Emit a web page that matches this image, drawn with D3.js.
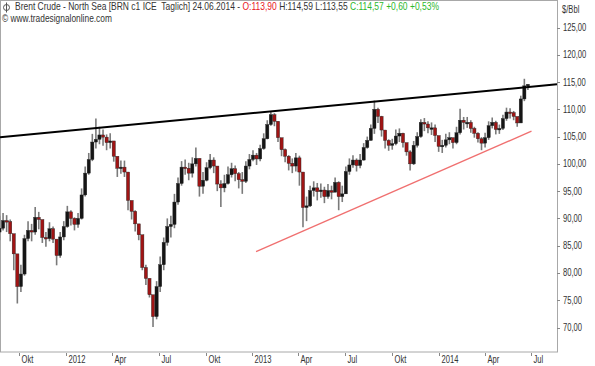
<!DOCTYPE html>
<html>
<head>
<meta charset="utf-8">
<script src="https://cdn.jsdelivr.net/npm/d3@7"></script>
<style>
  body { margin: 0; background: #fff; }
  svg { display: block; font-family: "Liberation Sans", Arial, sans-serif; }
  text { white-space: pre; }
</style>
</head>
<body>
<svg id="chart" width="595" height="366"></svg>
<script>
// weekly candles, one per week (Mondays Aug 2011 - Jun 2014)
const weeks = d3.timeMonday.range(new Date(2011, 7, 22), new Date(2014, 5, 24));

const closes = [
  88.2, 89.6, 89.4, 87.2, 83.5, 77.5, 79.8, 86.3, 87.8, 87.5,
  90.2, 89.8, 86.5, 86.3, 88.1, 86.2, 83.2, 86.6, 88.5, 91.2,
  90.0, 88.9, 90.0, 94.3, 98.3, 100.8, 104.0, 104.5, 105.3, 104.9,
  103.9, 104.2, 101.4, 99.2, 99.4, 98.5, 93.3, 91.3, 89.0, 87.0,
  81.0, 79.0, 76.0, 72.0, 77.5, 81.5, 85.6, 88.5, 88.9, 93.0,
  96.4, 99.4, 99.2, 98.3, 100.0, 101.0, 95.9, 97.0, 99.3, 100.7,
  99.6, 96.3, 95.6, 96.4, 98.0, 99.1, 98.2, 97.1, 96.8, 99.6,
  100.8, 101.6, 100.9, 102.8, 104.6, 107.2, 109.0, 107.8, 104.8, 102.6,
  101.4, 100.1, 99.6, 101.1, 98.5, 92.0, 92.3, 95.1, 95.6, 94.9,
  95.2, 94.0, 95.1, 94.8, 96.6, 94.0, 94.5, 98.6, 99.8, 100.7,
  99.7, 100.7, 103.0, 104.3, 106.5, 110.0, 108.7, 106.2, 104.3, 103.4,
  103.7, 105.1, 105.6, 103.9, 102.2, 100.0, 103.4, 105.0, 107.6, 107.3,
  106.6, 106.6, 105.2, 103.2, 103.4, 104.4, 104.8, 103.9, 105.7, 108.0,
  107.6, 107.6, 106.5, 105.6, 104.6, 103.8, 104.8, 107.0, 107.6, 106.3,
  106.5, 108.3, 109.5, 109.4, 108.7, 107.5, 111.9, 114.3, 114.57
];

const highs = [
  90.5, 91.0, 90.6, 89.8, 87.0, 82.0, 81.5, 87.0, 89.5, 89.0,
  92.1, 91.2, 89.5, 87.5, 89.3, 88.5, 86.0, 87.5, 89.5, 92.3,
  91.5, 90.2, 91.0, 95.5, 99.5, 102.0, 105.5, 108.3, 106.8, 106.3,
  105.4, 105.6, 104.0, 100.8, 100.6, 100.6, 97.5, 93.2, 91.5, 88.8,
  86.5, 81.5, 79.0, 75.5, 78.5, 83.0, 86.5, 90.0, 90.5, 94.5,
  97.5, 100.5, 100.8, 100.2, 101.2, 103.0, 101.0, 98.5, 100.3, 101.8,
  101.2, 99.5, 97.0, 98.0, 99.5, 100.2, 99.7, 98.5, 98.5, 100.5,
  101.8, 102.5, 102.0, 103.5, 105.6, 108.0, 109.6, 109.3, 107.8, 104.5,
  102.8, 101.6, 101.0, 102.0, 101.5, 97.5, 94.0, 96.0, 96.8, 96.5,
  96.4, 95.8, 96.3, 96.0, 97.5, 96.8, 96.0, 99.5, 101.0, 101.6,
  101.0, 101.8, 103.8, 105.0, 107.2, 111.6, 110.3, 108.8, 105.8, 104.5,
  104.6, 106.3, 106.5, 105.7, 103.7, 102.5, 104.2, 105.8, 108.2, 108.4,
  107.8, 107.6, 107.2, 104.7, 104.4, 105.5, 105.8, 104.8, 106.8, 110.1,
  108.6, 108.6, 108.0, 106.8, 105.8, 104.9, 105.7, 107.8, 108.5, 107.9,
  107.2, 109.0, 110.3, 110.2, 109.7, 108.6, 112.5, 115.6, 114.59
];

const lows = [
  86.0, 87.8, 87.5, 85.8, 80.5, 74.4, 76.5, 79.5, 85.8, 85.8,
  87.0, 88.0, 85.5, 84.8, 85.8, 85.5, 81.4, 82.8, 86.0, 88.3,
  88.7, 87.8, 88.3, 89.8, 94.0, 98.0, 100.5, 102.8, 103.6, 103.3,
  102.5, 102.8, 100.4, 97.6, 98.2, 97.6, 91.5, 89.8, 87.6, 86.0,
  80.5, 77.8, 75.5, 70.1, 71.5, 76.5, 80.5, 85.0, 86.5, 88.2,
  92.5, 96.0, 98.0, 97.0, 97.5, 99.5, 94.0, 94.5, 96.8, 99.0,
  98.3, 95.0, 92.1, 94.8, 96.2, 97.5, 96.8, 95.5, 94.5, 96.5,
  99.0, 100.5, 99.8, 100.5, 102.6, 104.5, 107.0, 106.9, 104.0, 101.4,
  100.3, 98.8, 98.3, 98.6, 96.0, 88.4, 89.5, 92.1, 94.0, 93.3,
  93.8, 92.8, 93.6, 93.5, 95.0, 91.5, 93.0, 94.5, 98.0, 99.3,
  98.6, 99.2, 100.6, 102.8, 104.3, 105.5, 107.5, 105.0, 102.8, 102.4,
  102.6, 103.4, 104.0, 103.0, 101.5, 98.8, 99.8, 103.0, 104.8, 106.0,
  105.6, 105.3, 104.0, 102.2, 102.0, 103.0, 103.6, 102.8, 103.6, 105.4,
  106.3, 106.6, 105.7, 104.8, 103.9, 102.5, 103.0, 104.4, 106.5, 105.4,
  105.5, 106.2, 107.9, 108.3, 108.0, 106.8, 107.8, 111.5, 113.55
];
const firstOpen = 87.5;

const quarterTicks = [
  new Date(2011, 9, 1), new Date(2012, 0, 1), new Date(2012, 3, 1), new Date(2012, 6, 1),
  new Date(2012, 9, 1), new Date(2013, 0, 1), new Date(2013, 3, 1), new Date(2013, 6, 1),
  new Date(2013, 9, 1), new Date(2014, 0, 1), new Date(2014, 3, 1), new Date(2014, 6, 1)
];
const quarterLabels = ["Okt", "2012", "Apr", "Jul", "Okt", "2013", "Apr", "Jul", "Okt", "2014", "Apr", "Jul"];
const priceTicks = [70, 75, 80, 85, 90, 95, 100, 105, 110, 115, 120, 125];

// hand drawn trend lines [date, price]
const resistance = [[new Date(2011, 7, 25), 104.9], [new Date(2014, 7, 21), 114.6]];
const support = [[new Date(2013, 0, 8), 83.9], [new Date(2014, 6, 2), 106.0]];

const titleParts = [
  ["Brent Crude - North Sea [BRN c1 ICE  Taglich] 24.06.2014 - ", "#333"],
  ["O:113,90", "#e8141b"],
  [" H:114,59 L:113,55 ", "#333"],
  ["C:114,57 +0,60 +0,53%", "#2db82d"]
];

const W = 557, H = 352;
const svg = d3.select("#chart");

const x = d3.scaleTime()
  .domain([new Date(2011, 7, 25), new Date(2014, 7, 21)])
  .range([0, W]);
const y = d3.scaleLinear().domain([70, 125]).range([327.5, 27.5]);

const de = d3.formatLocale({ decimal: ",", thousands: ".", grouping: [3], currency: ["", " $"] });
const fmt = de.format(".2f");

svg.append("defs").append("clipPath").attr("id", "plot")
  .append("rect").attr("width", W).attr("height", H);

// frame
svg.append("rect")
  .attr("x", 0.5).attr("y", 0.5).attr("width", W).attr("height", H - 0.5)
  .attr("fill", "none").attr("stroke", "#a8a8a8");

const candles = weeks.map((d, i) => ({
  date: d3.timeDay.offset(d, 2),
  open: i ? closes[i - 1] : firstOpen,
  close: closes[i], high: highs[i], low: lows[i]
}));

const g = svg.append("g").attr("clip-path", "url(#plot)");

g.selectAll("line.wick")
  .data(candles)
  .join("line")
  .attr("class", "wick")
  .attr("x1", d => x(d.date)).attr("x2", d => x(d.date))
  .attr("y1", d => y(d.high)).attr("y2", d => y(d.low))
  .attr("stroke", "#7a7a7a").attr("stroke-width", 1.6);

g.selectAll("rect.body")
  .data(candles)
  .join("rect")
  .attr("class", "body")
  .attr("x", d => x(d.date) - 1.6)
  .attr("width", 3.2)
  .attr("y", d => y(Math.max(d.open, d.close)))
  .attr("height", d => Math.max(1.5, Math.abs(y(d.open) - y(d.close))))
  .attr("fill", d => d.close < d.open ? "#a01414" : "#151515")
  .attr("stroke", "#222").attr("stroke-width", 0.4);

const line = d3.line().x(d => x(d[0])).y(d => y(d[1]));
g.append("path").datum(resistance).attr("d", line)
  .attr("stroke", "#000").attr("stroke-width", 2).attr("fill", "none");
g.append("path").datum(support).attr("d", line)
  .attr("stroke", "#f07070").attr("stroke-width", 1.3).attr("fill", "none");

// y axis on the right
const yAxis = svg.append("g").attr("class", "lbl");
priceTicks.forEach(v => {
  yAxis.append("line")
    .attr("x1", W).attr("x2", W + 3)
    .attr("y1", Math.round(y(v)) + 0.5).attr("y2", Math.round(y(v)) + 0.5)
    .attr("stroke", "#888");
  yAxis.append("text")
    .attr("x", W + 6).attr("y", y(v)).attr("dy", "0.35em")
    .attr("font-size", 10).attr("fill", "#333")
    .text(fmt(v));
});
yAxis.append("text")
  .attr("x", W + 5).attr("y", 13)
  .attr("font-size", 10).attr("fill", "#333")
  .text("$/Bbl");

// x axis
const xAxis = svg.append("g").attr("class", "lbl");
quarterTicks.forEach((d, i) => {
  const px = Math.round(x(d)) + 0.5;
  xAxis.append("line")
    .attr("x1", px).attr("x2", px).attr("y1", H + 1).attr("y2", H + 4)
    .attr("stroke", "#888");
  xAxis.append("text")
    .attr("x", px + 2).attr("y", H + 11)
    .attr("font-size", 10).attr("fill", "#333")
    .text(quarterLabels[i]);
});

// title icon
const icon = svg.append("g").attr("stroke", "#555").attr("fill", "none");
icon.append("circle").attr("cx", 6.5).attr("cy", 7.5).attr("r", 3);
icon.append("line").attr("x1", 6.5).attr("x2", 6.5).attr("y1", 2.5).attr("y2", 12.5);

// title: one text per colour, laid out at natural width, then the group is squeezed
const titleG = svg.append("g");
const parts = titleParts.map(p => titleG.append("text")
  .attr("y", 10.5).attr("font-size", 10).attr("fill", p[1]).text(p[0]));
let tx = 0;
parts.forEach(t => {
  t.attr("x", tx);
  tx += t.node().getComputedTextLength();
});
titleG.attr("transform", `translate(15,0) scale(${424 / tx},1)`);

const credit = svg.append("g");
const creditText = credit.append("text")
  .attr("x", 0).attr("y", 22.5).attr("font-size", 10).attr("fill", "#333")
  .text("\u00a9 www.tradesignalonline.com");
credit.attr("transform", `translate(2,0) scale(${110 / creditText.node().getComputedTextLength()},1)`);

// squeeze axis labels to the narrow font of the original
svg.selectAll(".lbl text").each(function () {
  const w = this.getComputedTextLength();
  d3.select(this).attr("textLength", w * 0.76).attr("lengthAdjust", "spacingAndGlyphs");
});
</script>
</body>
</html>
